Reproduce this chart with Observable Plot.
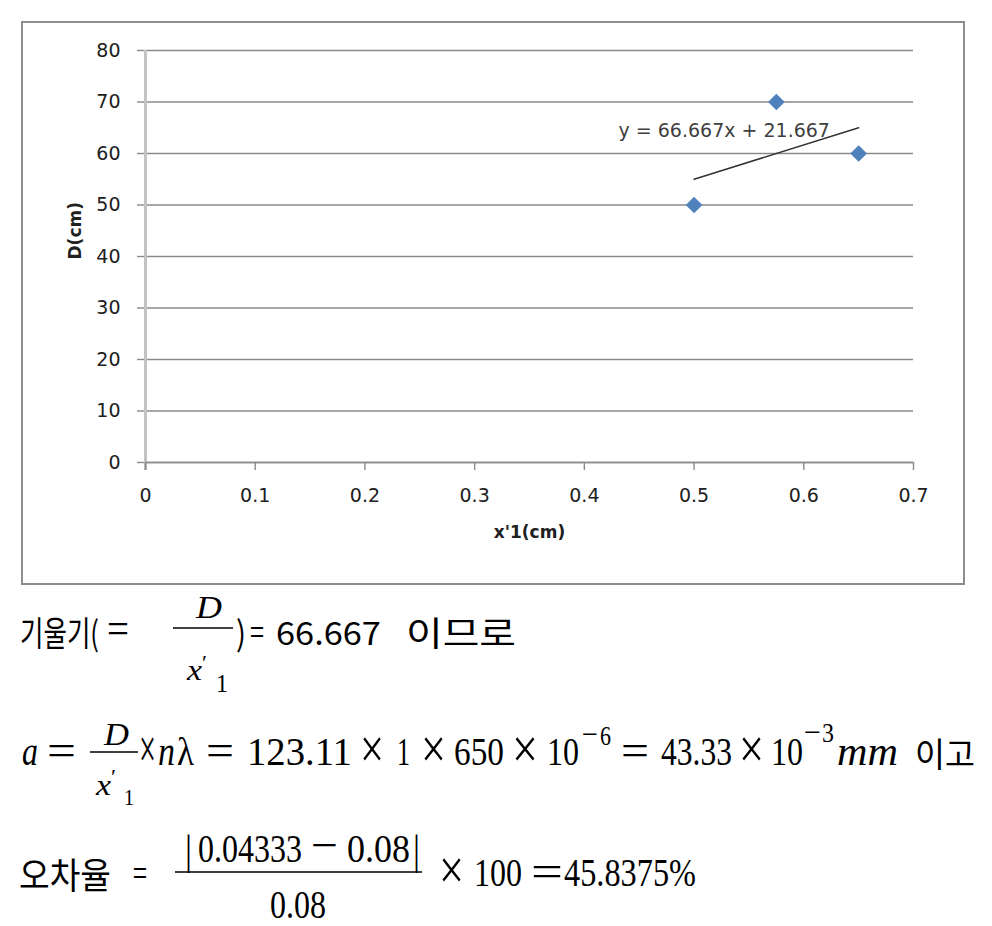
<!DOCTYPE html>
<html><head><meta charset="utf-8">
<script src="https://cdn.jsdelivr.net/npm/d3@7"></script>
<script src="https://cdn.jsdelivr.net/npm/@observablehq/plot@0.6"></script>
<style>
body{margin:0;background:#fff;width:992px;height:926px;overflow:hidden;position:relative;}
#frame{position:absolute;left:21px;top:21px;width:940px;height:560px;border:2px solid #8d8d8d;}
#eq{position:absolute;left:0;top:0;pointer-events:none;}
</style></head><body>
<div id="frame"></div>
<svg id="eq" width="992" height="926"></svg>
<script>
// ---- chart data ----
const xPos = [0.5, 0.575, 0.65];
const dVals = [50, 70, 60];
const xTicks = [0, 0.1, 0.2, 0.3, 0.4, 0.5, 0.6, 0.7];
const yTicks = [0, 10, 20, 30, 40, 50, 60, 70, 80];
const trendLabel = "y = 66.667x + 21.667";
const xTitle = "x'1(cm)";
const yTitle = "D(cm)";
const points = xPos.map((x, i) => ({x, d: dVals[i]}));

const grey = "#8a8a8a";
const txt = "#202020";

const chart = Plot.plot({
  width: 940, height: 560,
  marginLeft: 122, marginRight: 50, marginTop: 27, marginBottom: 121,
  style: {fontFamily: "DejaVu Sans", fontSize: "19px", background: "transparent", overflow: "visible"},
  x: {domain: [0, 0.7]},
  y: {domain: [0, 80]},
  marks: [
    Plot.gridY(yTicks, {stroke: grey, strokeOpacity: 1, strokeWidth: 1.4}),
    Plot.axisY(yTicks, {tickSize: 8, tickPadding: 17, stroke: grey, strokeWidth: 1.4, fill: txt, label: null, tickFormat: d => String(d)}),
    Plot.ruleX([0], {stroke: "#c3c3c3", strokeWidth: 3, insetBottom: -8}),
    Plot.ruleY([0], {stroke: grey, strokeWidth: 1.4}),
    Plot.axisX(xTicks, {tickSize: 8, tickPadding: 18, stroke: grey, strokeWidth: 1.4, fill: txt, label: null, tickFormat: d => String(d)}),
    Plot.dot(points, {x: "x", y: "d", symbol: "diamond2", r: 7.5, fill: "#4f81bd", stroke: "none"}),
    Plot.linearRegressionY(points, {x: "x", y: "d", stroke: "#333333", strokeWidth: 1.5, ci: 0}),
    Plot.text([trendLabel], {frameAnchor: "top-left", dx: 473, dy: 80, textAnchor: "start", lineAnchor: "middle", fill: "#404040", fontSize: 19}),
    Plot.text([yTitle], {frameAnchor: "left", dx: -70, dy: 3, rotate: -90, fontWeight: "bold", fontSize: 17, fill: txt}),
    Plot.text([xTitle], {frameAnchor: "bottom", dy: 75, fontWeight: "bold", fontSize: 17, fill: txt})
  ]
});
document.getElementById("frame").appendChild(chart);

// ---- formulas below the chart ----
const eq = d3.select("#eq");
const KR = "'Noto Sans CJK KR', sans-serif";
const SERIF = "'Liberation Serif', 'DejaVu Serif', serif";
// place text so that its advance spans x1..x2, baseline at y (horizontal scale only)
function T(str, x1, x2, y, size, opts = {}) {
  const t = eq.append("text").attr("x", 0).attr("y", 0).attr("font-size", size)
    .attr("font-family", opts.kr ? KR : SERIF)
    .attr("font-style", opts.it ? "italic" : null)
    .attr("fill", "#000").text(str);
  const w = t.node().getComputedTextLength() || (x2 - x1);
  const sx = (x2 - x1) / w;
  t.attr("transform", `translate(${x1},${y}) scale(${sx.toFixed(4)},1)`);
}
function L(x1, x2, y) {
  eq.append("line").attr("x1", x1).attr("x2", x2).attr("y1", y).attr("y2", y)
    .attr("stroke", "#000").attr("stroke-width", 1.6);
}

// line 1
T("기울기(", 20, 99, 646, 34, {kr: true});
T("=", 107, 129, 643, 44);
L(173, 233, 628);
T("D", 196, 222, 618, 32, {it: true});
T("x", 187, 202, 680, 30, {it: true});
T("′", 202, 207, 670, 22);
T("1", 216, 228, 692, 26);
T(")", 236, 246, 646, 34, {kr: true});
T("=", 250, 264, 643, 30, {kr: true});
T("66.667", 276, 381, 645, 32, {kr: true});
T("이므로", 406, 516, 646, 34, {kr: true});

// line 2
T("a", 22, 38, 765, 40, {it: true});
T("=", 47, 76, 765, 44);
L(90, 138, 752);
T("D", 104, 129, 745, 32, {it: true});
T("x", 96, 111, 795, 30, {it: true});
T("′", 111, 116, 784, 22);
T("1", 124, 134, 805, 24);
T("×", 139, 156, 768, 56);
T("n", 158, 175, 765, 40, {it: true});
T("λ", 177, 194, 765, 40);
T("=", 206, 234, 765, 44);
T("123.11", 247, 352, 765, 40);
T("×", 360, 384, 768, 56);
T("1", 397, 410, 765, 40);
T("×", 421, 446, 768, 56);
T("650", 454, 504, 765, 40);
T("×", 512, 538, 768, 56);
T("10", 547, 579, 765, 40);
T("−", 582, 598, 744, 30);
T("6", 600, 611, 745, 28);
T("=", 621, 649, 765, 44);
T("43.33", 661, 732, 765, 40);
T("×", 739, 764, 768, 56);
T("10", 771, 803, 765, 40);
T("−", 804, 821, 742, 30);
T("3", 822, 834, 742, 28);
T("mm", 837, 898, 765, 40, {it: true});
T("이고", 915, 975, 767, 34, {kr: true});

// line 3
T("오차율", 19, 111, 889, 36, {kr: true});
T("=", 133, 147, 884, 30, {kr: true});
L(175, 422, 872);
T("|", 185, 192, 864, 42);
T("0.04333", 198, 302, 862, 40);
T("−", 311, 338, 860, 44);
T("0.08", 347, 410, 862, 40);
T("|", 413, 420, 864, 42);
T("0.08", 270, 326, 918, 40);
T("×", 439, 464, 889, 56);
T("100", 474, 522, 886, 40);
T("=", 531, 563, 886, 44);
T("45.8375%", 564, 696, 886, 40);
</script>
</body></html>
